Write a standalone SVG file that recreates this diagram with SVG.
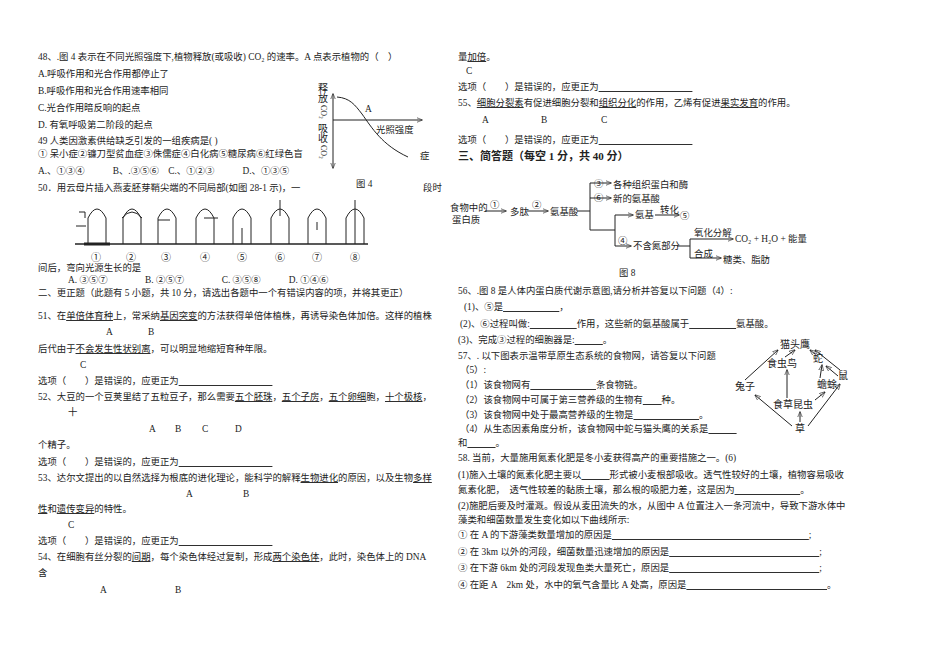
<svg xmlns="http://www.w3.org/2000/svg" width="950" height="650" viewBox="0 0 950 650">
<defs>
<marker id="ar" viewBox="0 0 10 10" refX="9" refY="5" markerWidth="6" markerHeight="6" orient="auto"><path d="M0,1 L10,5 L0,9 z" fill="#222"/></marker>
</defs>
<style>
text{font-family:"Liberation Serif","Noto Sans CJK SC",serif;font-size:9.4px;fill:#222}
.u{text-decoration:underline}
.b{font-weight:bold;font-size:11px}
.s{font-size:10px}
line,path,polyline{stroke:#222;fill:none;stroke-width:1}
.th{stroke-width:1.6}
</style>
<rect width="950" height="650" fill="#fff"/>
<g id="left">
<text x="38" y="60">48、.图 4 表示在不同光照强度下,植物释放(或吸收) CO₂ 的速率。A 点表示植物的（　）</text>
<text x="38" y="77">A.呼吸作用和光合作用都停止了</text>
<text x="38" y="94">B.呼吸作用和光合作用速率相同</text>
<text x="38" y="111">C.光合作用暗反响的起点</text>
<text x="38" y="128">D. 有氧呼吸第二阶段的起点</text>
<text x="38" y="144">49 人类因激素供给缺乏引发的一组疾病是( )</text>
<text x="38" y="157">① 呆小症②镰刀型贫血症③侏儒症④白化病⑤糖尿病⑥红绿色盲</text>
<text x="420" y="159">症</text>
<text x="38" y="174">A.、①③④　　　B、.③⑤⑥　C.、①②③　　　D.、①③⑤</text>
<text x="38" y="191">50．用云母片插入燕麦胚芽鞘尖端的不同局部(如图 28-1 示)，一</text>
<text x="423" y="191">段时</text>
<text x="38" y="271">间后，弯向光源生长的是</text>
<text x="68" y="283">A. ③⑤⑦　　　　B. ②⑤⑦　　　　C. ③⑤⑧　　　D. ①④⑥</text>
<text x="38" y="296">二、更正题（此题有 5 小题，共 10 分，请选出各题中一个有错误内容的项，并将其更正）</text>
<text x="38" y="319">51、在<tspan class="u">单倍体育种</tspan>上，常采纳<tspan class="u">基因突变</tspan>的方法获得单倍体植株，再诱导染色体加倍。这样的植株</text>
<text x="106" y="335">A</text><text x="148" y="335">B</text>
<text x="38" y="352">后代由于<tspan class="u">不会发生性状别离</tspan>，可以明显地缩短育种年限。</text>
<text x="80" y="368">C</text>
<text x="38" y="384">选项（　　）是错误的，应更正为<tspan class="u">　　　　　　　　　　</tspan></text>
<text x="38" y="400">52、大豆的一个豆荚里结了五粒豆子，那么需要<tspan class="u">五个胚珠</tspan>，<tspan class="u">五个子房</tspan>，<tspan class="u">五个卵细</tspan>胞，<tspan class="u">十个极核</tspan>，</text>
<text x="68" y="415">十</text>
<text x="149" y="432">A</text><text x="175" y="432">B</text><text x="202" y="432">C</text><text x="235" y="432">D</text>
<text x="38" y="448">个精子。</text>
<text x="38" y="465">选项（　　）是错误的，应更正为<tspan class="u">　　　　　　　　　　</tspan></text>
<text x="38" y="481">53、达尔文提出的以自然选择为根底的进化理论，能科学的解释<tspan class="u">生物进化</tspan>的原因，以及生物<tspan class="u">多样</tspan></text>
<text x="186" y="497">A</text><text x="243" y="497">B</text>
<text x="38" y="512"><tspan class="u">性</tspan>和<tspan class="u">遗传变异</tspan>的特性。</text>
<text x="68" y="528">C</text>
<text x="38" y="544">选项（　　）是错误的，应更正为<tspan class="u">　　　　　　　　　　</tspan></text>
<text x="38" y="560">54、在细胞有丝分裂的<tspan class="u">间期</tspan>，每个染色体经过复制，形成<tspan class="u">两个染色体</tspan>，此时，染色体上的 DNA</text>
<text x="38" y="576">含</text>
<text x="100" y="593">A</text><text x="175" y="593">B</text>
</g>
<g id="fig4">
<line x1="333" y1="166" x2="333" y2="94" marker-end="url(#ar)"/>
<line x1="333" y1="166" x2="333" y2="168" marker-end="url(#ar)"/>
<line x1="333" y1="120" x2="422" y2="120" marker-end="url(#ar)"/>
<path d="M337,97 C350,98 355,105 362,114 C372,128 382,145 408,157"/>
<text x="318" y="92" class="s">释</text><text x="318" y="102" class="s">放</text>
<text x="321" y="105" transform="rotate(90 321 105)" style="font-size:8px">CO₂</text>
<text x="318" y="132" class="s">吸</text><text x="318" y="142" class="s">收</text>
<text x="321" y="145" transform="rotate(90 321 145)" style="font-size:8px">CO₂</text>
<text x="365" y="112">A</text>
<text x="376" y="133">光照强度</text>
<text x="356" y="187">图 4</text>
</g>
<g id="fig50">
<line x1="75" y1="244" x2="368" y2="244" class="th"/>
<g class="th">
<path d="M88,244 V218 Q97,200 106,218 V244"/>
<path d="M76,226 H86"/><path d="M79,212 h6 v6"/>
<line x1="84" y1="244" x2="110" y2="244" style="stroke-width:3"/>
<path d="M123,244 V218 Q132,200 141,218 V244"/><path d="M122,218 Q132,206 142,218"/>
<path d="M158,244 V218 Q167,200 176,218 V244"/><line x1="158" y1="220" x2="170" y2="220"/>
<path d="M196,244 V218 Q205,200 214,218 V244"/><line x1="204" y1="218" x2="218" y2="218"/>
<path d="M233,244 V218 Q242,200 251,218 V244"/><line x1="242" y1="228" x2="242" y2="244"/>
<path d="M271,244 V218 Q280,200 289,218 V244"/><line x1="280" y1="200" x2="280" y2="216"/>
<path d="M308,244 V218 Q317,200 326,218 V244"/><line x1="317" y1="222" x2="317" y2="230"/>
<path d="M346,244 V218 Q355,200 364,218 V244"/><line x1="355" y1="200" x2="355" y2="244"/>
</g>
<text x="91" y="261" class="s">①</text><text x="126" y="261" class="s">②</text><text x="161" y="261" class="s">③</text><text x="200" y="261" class="s">④</text><text x="237" y="261" class="s">⑤</text><text x="275" y="261" class="s">⑥</text><text x="312" y="261" class="s">⑦</text><text x="350" y="261" class="s">⑧</text>
</g>
<g id="right">
<text x="458" y="60">量<tspan class="u">加倍</tspan>。</text>
<text x="466" y="74">C</text>
<text x="458" y="90">选项（　　）是错误的，应更正为<tspan class="u">　　　　　　　　　　</tspan></text>
<text x="458" y="106">55、<tspan class="u">细胞分裂素</tspan>有促进细胞分裂和<tspan class="u">组织分化</tspan>的作用，乙烯有促进<tspan class="u">果实发育</tspan>的作用。</text>
<text x="482" y="123">A</text><text x="541" y="123">B</text><text x="601" y="123">C</text>
<text x="458" y="143">选项（　　）是错误的，应更正为<tspan class="u">　　　　　　　　　　</tspan></text>
<text x="458" y="160" class="b">三、简答题（每空 1 分，共 40 分）</text>
<text x="458" y="294">56、.图 8 是人体内蛋白质代谢示意图,请分析并答复以下问题（4）:</text>
<text x="464" y="310">(1)、⑤是<tspan class="u">　　　　　　</tspan>，</text>
<text x="460" y="327">(2)、⑥过程叫做:<tspan class="u">　　　　　</tspan>作用，这些新的氨基酸属于<tspan class="u">　　　　　</tspan>氨基酸。</text>
<text x="458" y="343">(3)、完成③过程的细胞器是:<tspan class="u">　　　</tspan>。</text>
<text x="458" y="359">57、. 以下图表示温带草原生态系统的食物网，请答复以下问题</text>
<text x="460" y="373">（5）:</text>
<text x="460" y="388">（1）该食物网有<tspan class="u">　　　　　　　</tspan>条食物链。</text>
<text x="460" y="403">（2）该食物网中可属于第三营养级的生物有<tspan class="u">　　</tspan>种。</text>
<text x="460" y="418">（3）该食物网中处于最高营养级的生物是<tspan class="u">　　　　　　　</tspan>。</text>
<text x="460" y="432">（4）从生态因素角度分析，该食物网中蛇与猫头鹰的关系是<tspan class="u">　　　</tspan></text>
<text x="458" y="446">和<tspan class="u">　　　</tspan>。</text>
<text x="458" y="461">58. 当前，大量施用氮素化肥是冬小麦获得高产的重要措施之一。(6)</text>
<text x="458" y="478">(1)施入土壤的氮素化肥主要以<tspan class="u">　　　</tspan>形式被小麦根部吸收。透气性较好的土壤，植物容易吸收</text>
<text x="458" y="493">氮素化肥，　透气性较差的黏质土壤，那么根的吸肥力差，这是因为<tspan class="u">　　　　　　　</tspan>。</text>
<text x="458" y="509">(2)施肥后要及时灌溉。假设从麦田流失的水，从图中 A 位置注入一条河流中，导致下游水体中</text>
<text x="458" y="523">藻类和细菌数量发生变化如以下曲线所示:</text>
<text x="458" y="538">① 在 A 的下游藻类数量增加的原因是<tspan class="u">　　　　　　　　　　　　　　　　　　　　　</tspan>;</text>
<text x="458" y="555">② 在 3km 以外的河段，细菌数量迅速增加的原因是<tspan class="u">　　　　　　　　　　　　　　　　</tspan>;</text>
<text x="458" y="571">③ 在下游 6km 处的河段发现鱼类大量死亡，原因是<tspan class="u">　　　　　　　　　　　　　　　　</tspan>;</text>
<text x="458" y="588">④ 在距 A　2km 处，水中的氧气含量比 A 处高，原因是<tspan class="u">　　　　　　　　　　　　　　　</tspan>。</text>
</g>
<g id="fig8">
<text x="450" y="211">食物中的</text><text x="452" y="223">蛋白质</text>
<text x="490" y="208">①</text><text x="510" y="215">多肽</text>
<text x="532" y="208">②</text><text x="550" y="215">氨基酸</text>
<text x="594" y="187">③</text><text x="613" y="188">各种组织蛋白和酶</text>
<text x="594" y="201">⑥</text><text x="613" y="202">新的氨基酸</text>
<text x="635" y="218">氨基</text><text x="660" y="213">转化</text><text x="680" y="219">⑤</text>
<text x="618" y="244">④</text><text x="633" y="249">不含氮部分</text>
<text x="694" y="236">氧化分解</text><text x="735" y="242">CO₂ + H₂O + 能量</text>
<text x="694" y="257">合成</text><text x="723" y="263">糖类、脂肪</text>
<text x="619" y="276">图 8</text>
</g>
<g id="fig57">
<text x="780" y="348" class="s">猫头鹰</text>
<text x="813" y="362" class="s">蛇</text>
<text x="838" y="379" class="s">鼠</text>
<text x="767" y="367" class="s">食虫鸟</text>
<text x="735" y="390" class="s">兔子</text>
<text x="817" y="388" class="s">蟾蜍</text>
<text x="773" y="408" class="s">食草昆虫</text>
<text x="795" y="432" class="s">草</text>
</g>
<g id="connectors">
<line x1="485" y1="211" x2="506" y2="211" marker-end="url(#ar)"/>
<line x1="527" y1="211" x2="548" y2="211" marker-end="url(#ar)"/>
<polyline points="577,211 590,211"/>
<line x1="590" y1="183" x2="590" y2="230"/>
<line x1="590" y1="183" x2="611" y2="183" marker-end="url(#ar)"/>
<line x1="590" y1="198" x2="611" y2="198" marker-end="url(#ar)"/>
<line x1="590" y1="230" x2="615" y2="230"/>
<line x1="615" y1="215" x2="615" y2="246"/>
<line x1="615" y1="215" x2="633" y2="215" marker-end="url(#ar)"/>
<line x1="655" y1="215" x2="679" y2="215" marker-end="url(#ar)"/>
<line x1="615" y1="246" x2="631" y2="246" marker-end="url(#ar)"/>
<line x1="677" y1="246" x2="690" y2="246"/>
<line x1="690" y1="239" x2="690" y2="258"/>
<line x1="690" y1="239" x2="733" y2="239" marker-end="url(#ar)"/>
<line x1="690" y1="258" x2="721" y2="258" marker-end="url(#ar)"/>
<line x1="745" y1="380" x2="778" y2="350" marker-end="url(#ar)"/>
<line x1="785" y1="357" x2="795" y2="350" marker-end="url(#ar)"/>
<line x1="815" y1="354" x2="810" y2="350" marker-end="url(#ar)"/>
<line x1="840" y1="370" x2="815" y2="350" marker-end="url(#ar)"/>
<line x1="838" y1="376" x2="826" y2="366" marker-end="url(#ar)"/>
<line x1="820" y1="378" x2="822" y2="365" marker-end="url(#ar)"/>
<line x1="787" y1="398" x2="787" y2="370" marker-end="url(#ar)"/>
<line x1="815" y1="400" x2="825" y2="392" marker-end="url(#ar)"/>
<line x1="800" y1="422" x2="800" y2="412" marker-end="url(#ar)"/>
<line x1="792" y1="426" x2="755" y2="395" marker-end="url(#ar)"/>
<line x1="808" y1="426" x2="840" y2="384" marker-end="url(#ar)"/>
</g>
</svg>
